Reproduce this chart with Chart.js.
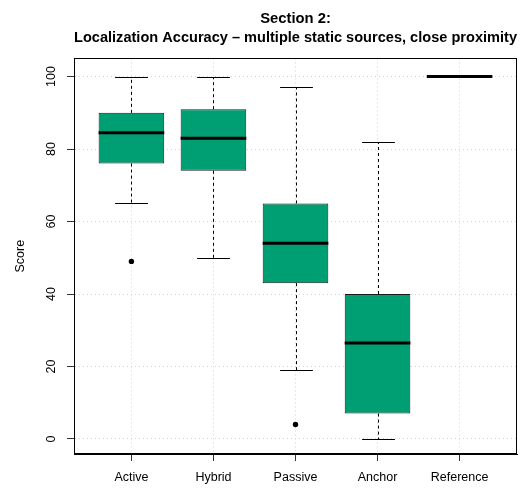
<!DOCTYPE html>
<html>
<head>
<meta charset="utf-8">
<script src="https://cdn.jsdelivr.net/npm/chart.js@4/dist/chart.umd.min.js"></script>
<style>
html,body{margin:0;padding:0;background:#ffffff;}
#wrap{width:526px;height:488px;}
</style>
</head>
<body>
<div id="wrap"><canvas id="c" width="526" height="488"></canvas></div>
<script>
// ---- data ----
const categories = ['Active', 'Hybrid', 'Passive', 'Anchor', 'Reference'];
const lowerWhisker = [65, 50, 19, 0, 100];
const q1 = [76, 74, 43, 7, 100];
const medians = [84.5, 83, 54, 26.5, 100];
const q3 = [90, 91, 65, 40, 100];
const upperWhisker = [100, 100, 97, 82, 100];
const outlierCategory = ['Active', 'Passive'];
const outlierValues = [49, 4];
const yTicks = [0, 20, 40, 60, 80, 100];
const titleLines = ['Section 2:', 'Localization Accuracy \u2013 multiple static sources, close proximity'];
const yAxisTitle = 'Score';

// ---- build ----
const FONT = "'Liberation Sans', Arial, Helvetica, sans-serif";
const boxData = categories.map((c, i) => ({ x: i + 1, y: [q1[i], q3[i]] }));
const outlierData = outlierCategory.map((c, i) => ({ x: categories.indexOf(c) + 1, y: outlierValues[i] }));

function seg(ctx, x1, y1, x2, y2) {
  ctx.beginPath(); ctx.moveTo(x1, y1); ctx.lineTo(x2, y2); ctx.stroke();
}

const boxExtras = {
  id: 'boxExtras',
  afterDatasetsDraw(chart) {
    const { ctx, scales: { x, y } } = chart;
    const meta = chart.getDatasetMeta(0);
    ctx.save();
    ctx.strokeStyle = '#000';
    categories.forEach((c, i) => {
      const bar = meta.data[i];
      const cx = Math.round(x.getPixelForValue(i + 1)) + 0.5;
      const half = bar.width / 2;
      const yq1 = y.getPixelForValue(q1[i]);
      const yq3 = y.getPixelForValue(q3[i]);
      const ylo = Math.round(y.getPixelForValue(lowerWhisker[i])) + 0.5;
      const yhi = Math.round(y.getPixelForValue(upperWhisker[i])) + 0.5;
      ctx.lineWidth = 1;
      ctx.setLineDash([3, 3]);
      if (upperWhisker[i] > q3[i]) seg(ctx, cx, yq3, cx, yhi);
      if (lowerWhisker[i] < q1[i]) seg(ctx, cx, yq1, cx, ylo);
      ctx.setLineDash([]);
      seg(ctx, cx - half / 2, yhi, cx + half / 2, yhi);
      seg(ctx, cx - half / 2, ylo, cx + half / 2, ylo);
      const ym = y.getPixelForValue(medians[i]);
      ctx.lineWidth = 3;
      seg(ctx, bar.x - half, ym, bar.x + half, ym);
    });
    ctx.restore();
  },
  afterDraw(chart) {
    const { ctx, chartArea: a } = chart;
    ctx.save();
    ctx.strokeStyle = '#000';
    ctx.lineWidth = 1;
    ctx.strokeRect(Math.round(a.left) + 0.5, Math.round(a.top) + 0.5,
                   Math.round(a.right - a.left) - 1, Math.round(a.bottom - a.top) - 1);
    ctx.restore();
  }
};

new Chart(document.getElementById('c'), {
  type: 'bar',
  data: {
    datasets: [
      {
        type: 'bar',
        data: boxData,
        backgroundColor: '#009E73',
        borderColor: '#1a1a1a',
        borderWidth: 1,
        borderSkipped: false,
        categoryPercentage: 1,
        barPercentage: 0.8
      },
      {
        type: 'scatter',
        data: outlierData,
        pointRadius: 2.7,
        pointBorderWidth: 0,
        backgroundColor: '#000',
        borderColor: '#000',
        showLine: false
      }
    ]
  },
  options: {
    responsive: false,
    animation: false,
    devicePixelRatio: 1,
    events: [],
    layout: { padding: { left: 0, right: 9, top: 0, bottom: 0 } },
    plugins: {
      legend: { display: false },
      tooltip: { enabled: false },
      title: {
        display: true,
        text: titleLines,
        color: '#000',
        fullSize: false,
        font: { family: FONT, size: 14.8, weight: 'bold', lineHeight: 1.3 },
        padding: { top: 9.5, bottom: 10.5 }
      }
    },
    scales: {
      x: {
        type: 'linear',
        min: 0.3,
        max: 5.7,
        offset: false,
        afterBuildTicks(s) { s.ticks = categories.map((c, i) => ({ value: i + 1 })); },
        afterFit(s) { s.height = 34; },
        ticks: {
          autoSkip: false,
          maxRotation: 0,
          callback: (v, idx) => categories[idx],
          color: '#000',
          font: { family: FONT, size: 12.5 },
          padding: 9
        },
        grid: { offset: false, color: '#d3d3d3', lineWidth: 1, tickLength: 7, tickColor: '#333', tickWidth: 1 },
        border: { display: true, color: '#000', width: 1, dash: [1, 3] }
      },
      y: {
        min: -4.15,
        max: 105,
        afterBuildTicks(s) { s.ticks = yTicks.map(v => ({ value: v })); },
        afterFit(s) { s.width = 74; },
        ticks: {
          minRotation: 90,
          maxRotation: 90,
          crossAlign: 'center',
          color: '#000',
          font: { family: FONT, size: 12.5 },
          padding: 5.5
        },
        grid: { color: '#d3d3d3', lineWidth: 1, tickLength: 7, tickColor: '#333', tickWidth: 1 },
        border: { display: true, color: '#000', width: 1, dash: [1, 3] },
        title: {
          display: true,
          text: yAxisTitle,
          color: '#000',
          font: { family: FONT, size: 12.5 },
          padding: { top: 13, bottom: 0 }
        }
      }
    }
  },
  plugins: [boxExtras]
});
</script>
</body>
</html>
